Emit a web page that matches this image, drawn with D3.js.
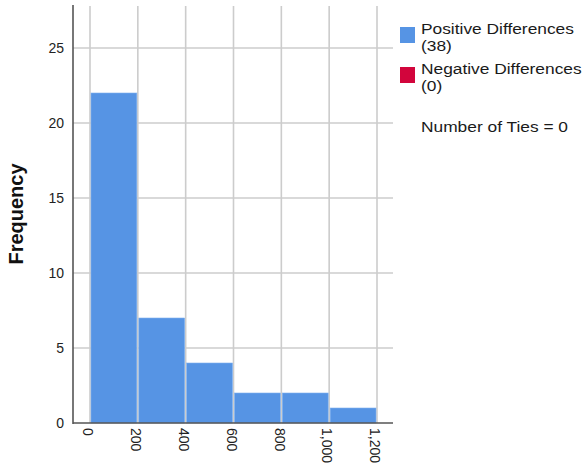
<!DOCTYPE html>
<html>
<head>
<meta charset="utf-8">
<script src="https://cdn.jsdelivr.net/npm/d3@7"></script>
<style>
  html, body { margin: 0; padding: 0; background: #fff; }
  svg { display: block; font-family: "Liberation Sans", Arial, sans-serif; }
</style>
</head>
<body>
<svg id="chart" width="582" height="465"></svg>
<script>
// Histogram of positive differences (bin edges and counts)
const binEdges = [0, 200, 400, 600, 800, 1000, 1200];
const counts = [22, 7, 4, 2, 2, 1];
const yTicks = [0, 5, 10, 15, 20, 25];
const xTicks = [0, 200, 400, 600, 800, 1000, 1200];
const legendLabels = [["Positive Differences", "(38)"], ["Negative Differences", "(0)"]];
const legendColors = ["#5694E4", "#D2053C"];
const tiesLabel = "Number of Ties = 0";

const svg = d3.select("#chart");
const plot = { left: 73, right: 393, top: 5, bottom: 423 };

const x = d3.scaleLinear().domain([0, 1200]).range([90, 377]);
const y = d3.scaleLinear().domain([0, 25]).range([423, 48]);

// grid lines
const grid = svg.append("g").attr("stroke", "#cccccc").attr("stroke-width", 1.6);
grid.selectAll("line.v").data(xTicks).join("line")
  .attr("x1", d => x(d)).attr("x2", d => x(d))
  .attr("y1", plot.top + 1).attr("y2", plot.bottom);
grid.selectAll("line.h").data(yTicks.filter(d => d > 0)).join("line")
  .attr("x1", plot.left).attr("x2", plot.right)
  .attr("y1", d => y(d)).attr("y2", d => y(d));

// bars
const bins = counts.map((c, i) => ({ x0: binEdges[i], x1: binEdges[i + 1], count: c }));
svg.append("g").selectAll("rect").data(bins).join("rect")
  .attr("x", d => x(d.x0) + 1)
  .attr("width", d => x(d.x1) - x(d.x0) - 2)
  .attr("y", d => y(d.count))
  .attr("height", d => y(0) - y(d.count))
  .attr("fill", legendColors[0])
  .attr("stroke", "#7fb0ee").attr("stroke-width", 0.6);

// axis lines
svg.append("line").attr("x1", plot.left).attr("x2", plot.left)
  .attr("y1", plot.top).attr("y2", plot.bottom + 1)
  .attr("stroke", "#555").attr("stroke-width", 1.6);
svg.append("line").attr("x1", plot.left).attr("x2", plot.right)
  .attr("y1", plot.bottom).attr("y2", plot.bottom)
  .attr("stroke", "#555").attr("stroke-width", 1.6);

// y axis labels
const yAxis = d3.axisLeft(y).tickValues(yTicks).tickSize(0).tickPadding(0);
const gy = svg.append("g").attr("transform", `translate(${plot.left - 9},0)`).call(yAxis);
gy.select(".domain").remove();
gy.selectAll("text").attr("font-size", 14).attr("fill", "#222")
  .attr("font-family", "Liberation Sans, Arial, sans-serif");

// x axis labels (rotated to read downward)
const xAxis = d3.axisBottom(x).tickValues(xTicks).tickSize(0).tickFormat(d3.format(","));
const gx = svg.append("g").attr("transform", `translate(0,${plot.bottom + 5})`).call(xAxis);
gx.select(".domain").remove();
gx.selectAll("text")
  .attr("font-size", 14).attr("fill", "#222")
  .attr("font-family", "Liberation Sans, Arial, sans-serif")
  .attr("text-anchor", "start")
  .attr("transform", "rotate(90)")
  .attr("x", 0).attr("y", 0).attr("dy", "0.52em").attr("dx", 0);

// y axis title
svg.append("text")
  .attr("transform", "translate(23,214) rotate(-90)")
  .attr("text-anchor", "middle")
  .attr("font-size", 20).attr("font-weight", "bold").attr("fill", "#111")
  .text("Frequency");

// legend (text set slightly wide)
const leg = svg.append("g");
const legTop = [27, 67];
const wide = t => t.attr("transform", "translate(421,0) scale(1.12,1) translate(-421,0)");
legendLabels.forEach((lines, i) => {
  leg.append("rect").attr("x", 400).attr("y", legTop[i]).attr("width", 15).attr("height", 16)
    .attr("fill", legendColors[i]);
  lines.forEach((t, j) => {
    leg.append("text").attr("x", 421).attr("y", legTop[i] + 7 + j * 17)
      .attr("font-size", 15.5).attr("fill", "#1a1a1a").text(t).call(wide);
  });
});
leg.append("text").attr("x", 421).attr("y", 132).attr("font-size", 15.5).attr("fill", "#1a1a1a")
  .text(tiesLabel).call(wide);
</script>
</body>
</html>
